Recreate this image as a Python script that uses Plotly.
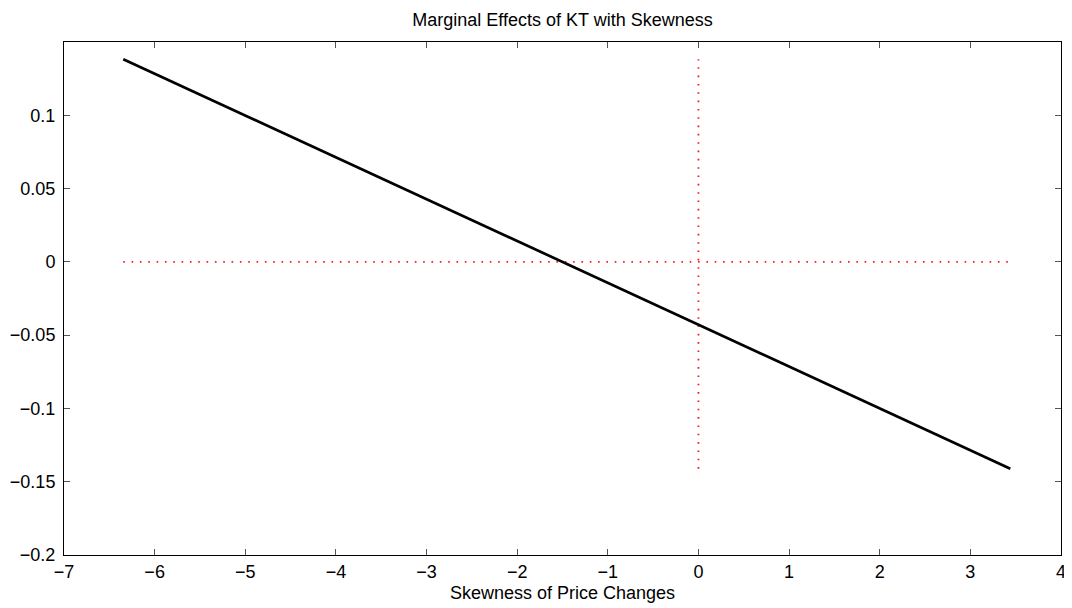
import plotly.graph_objects as go

# Data
line_x = [-6.346, 3.441]
line_y = [0.1383, -0.1411]
zero_h_x = [-6.346, 3.441]
zero_h_y = [0, 0]
zero_v_x = [0, 0]
zero_v_y = [-0.1411, 0.1383]

x_ticks = [-7, -6, -5, -4, -3, -2, -1, 0, 1, 2, 3, 4]
x_tick_labels = ["\u22127", "\u22126", "\u22125", "\u22124", "\u22123", "\u22122", "\u22121", "0", "1", "2", "3", "4"]
y_ticks = [-0.2, -0.15, -0.1, -0.05, 0, 0.05, 0.1]
y_tick_labels = ["\u22120.2", "\u22120.15", "\u22120.1", "\u22120.05", "0", "0.05", "0.1"]

FONT = "Liberation Sans, Arial, sans-serif"
FS = 18

fig = go.Figure()
fig.add_trace(go.Scatter(x=zero_h_x, y=zero_h_y, mode="lines",
                         line=dict(color="#ff1a1a", width=1.8, dash="1.6px,6.73px"), showlegend=False))
fig.add_trace(go.Scatter(x=zero_v_x, y=zero_v_y, mode="lines",
                         line=dict(color="#ff1a1a", width=1.8, dash="1.6px,6.73px"), showlegend=False))
fig.add_trace(go.Scatter(x=line_x, y=line_y, mode="lines",
                         line=dict(color="black", width=2.7), showlegend=False))

axis_common = dict(showgrid=False, zeroline=False, showline=True, linecolor="black", linewidth=1,
                   mirror="ticks", ticks="inside", ticklen=6, tickcolor="#555", tickwidth=1,
                   ticklabeloverflow="allow", automargin=False,
                   tickfont=dict(family=FONT, size=FS, color="black"))

# page body has an 8px margin; figure sized/margined to compensate
W, H = 1064, 600
fig.update_layout(
    width=W, height=H,
    margin=dict(l=56, r=11, t=34, b=53),
    paper_bgcolor="white", plot_bgcolor="white",
    title=dict(text="Marginal Effects of KT with Skewness", x=((64 + 1061) / 2 - 8) / W,
               xanchor="center", y=1 - 12 / H, yanchor="middle",
               font=dict(family=FONT, size=FS, color="black")),
    xaxis=dict(range=[-7, 4], tickvals=x_ticks, ticktext=x_tick_labels,
               title=dict(text="Skewness of Price Changes", standoff=5,
                          font=dict(family=FONT, size=FS, color="black")),
               **axis_common),
    yaxis=dict(range=[-0.2, 0.15], tickvals=y_ticks, ticktext=y_tick_labels,
               ticklabelstandoff=4, **axis_common),
)

fig.write_html("out.html")
